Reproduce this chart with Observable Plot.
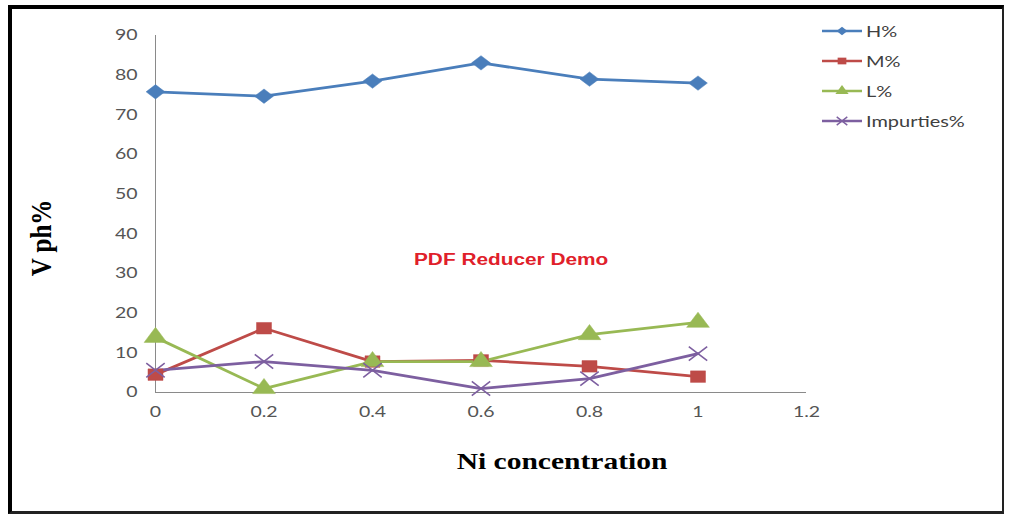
<!DOCTYPE html>
<html><head><meta charset="utf-8">
<script src="https://cdn.jsdelivr.net/npm/d3@7"></script>
<script src="https://cdn.jsdelivr.net/npm/@observablehq/plot@0.6"></script>
<style>
html,body{margin:0;padding:0;background:#fff;}
#wrap{position:relative;width:1010px;height:517px;overflow:hidden;}
#frame{position:absolute;left:8px;top:5px;width:990px;height:502px;border-left:4px solid #000;border-top:4px solid #000;border-right:2px solid #222;border-bottom:3px solid #222;pointer-events:none;}
.ttl{position:absolute;font-family:"Liberation Serif","DejaVu Serif",serif;font-weight:bold;font-size:24px;color:#000;white-space:nowrap;}
#legend{position:absolute;left:820px;top:16px;font-family:Lato,"Open Sans",sans-serif;font-size:15px;color:#404040;}
#legend .it{display:flex;align-items:center;height:30px;}
#legend svg{margin-right:2px;}
#legend span{display:inline-block;transform:scaleX(1.33);transform-origin:left center;}
#wm{position:absolute;left:414px;top:251px;font-family:"Liberation Sans",Arial,sans-serif;font-weight:bold;font-size:16px;color:#e0202a;transform:scaleX(1.3);transform-origin:left center;white-space:nowrap;}
</style></head>
<body><div id="wrap"></div>
<script>
const xs = [0, 0.2, 0.4, 0.6, 0.8, 1];
const seriesNames = ["H%", "M%", "L%", "Impurties%"];
const H = [75.8, 74.7, 78.5, 83.1, 79.0, 78.0];
const M = [4.5, 16.2, 7.8, 8.1, 6.6, 4.0];
const L = [13.9, 1.0, 7.8, 7.8, 14.6, 17.7];
const Imp = [5.6, 7.8, 5.6, 1.0, 3.5, 9.8];
const yTicks = [0, 10, 20, 30, 40, 50, 60, 70, 80, 90];
const xTicks = [0, 0.2, 0.4, 0.6, 0.8, 1, 1.2];
const colors = ["#4A7EBB", "#BE4B48", "#98B954", "#7D5FA0"];
const xTitle = "Ni concentration";
const yTitle = "V ph%";
const watermark = "PDF Reducer Demo";

const SX = 1.3; // horizontal stretch of the reference image
function stretched(type) {
  return {
    draw(ctx, size) {
      const c = {
        moveTo: (x, y) => ctx.moveTo(x * SX, y),
        lineTo: (x, y) => ctx.lineTo(x * SX, y),
        rect: (x, y, w, h) => {
          ctx.moveTo(x * SX, y);
          ctx.lineTo((x + w) * SX, y);
          ctx.lineTo((x + w) * SX, y + h);
          ctx.lineTo(x * SX, y + h);
          ctx.closePath();
        },
        closePath: () => ctx.closePath()
      };
      type.draw(c, size);
    }
  };
}
const symbols = [stretched(d3.symbolDiamond2), stretched(d3.symbolSquare), stretched(d3.symbolTriangle), stretched(d3.symbolTimes)];

const values = [H, M, L, Imp];
const data = [];
seriesNames.forEach((s, i) => xs.forEach((x, j) => data.push({series: s, x, y: values[i][j]})));

const wrap = document.getElementById("wrap");
const tickFont = "Lato, 'Open Sans', sans-serif";

const chart = Plot.plot({
  width: 1010, height: 517,
  marginLeft: 155, marginRight: 204, marginTop: 35, marginBottom: 125,
  style: {background: "transparent", overflow: "visible"},
  x: {domain: [0, 1.2], ticks: xTicks},
  y: {domain: [0, 90], ticks: yTicks},
  color: {domain: seriesNames, range: colors},
  symbol: {domain: seriesNames, range: symbols},
  marks: [
    Plot.ruleX([0], {stroke: "#8a8a8a", strokeWidth: 1}),
    Plot.ruleY([0], {stroke: "#8a8a8a", strokeWidth: 1}),
    Plot.axisY({ticks: yTicks, tickSize: 0, tickPadding: 18, label: null, fontSize: 15, fill: "#555", fontFamily: tickFont}),
    Plot.axisX({ticks: xTicks, tickSize: 0, tickPadding: 14, label: null, fontSize: 15, fill: "#555", fontFamily: tickFont, tickFormat: d => String(d)}),
    Plot.line(data, {x: "x", y: "y", z: "series", stroke: "series", strokeWidth: 2.8}),
    Plot.dot(data.filter(d => d.series !== "Impurties%"), {x: "x", y: "y", symbol: "series", fill: "series", stroke: "series", strokeWidth: 0.5, r: 6.5}),
    Plot.dot(data.filter(d => d.series === "Impurties%"), {x: "x", y: "y", symbol: "series", fill: "none", stroke: "series", strokeWidth: 1.6, r: 6.5})
  ]
});
chart.style.position = "absolute";
chart.style.left = "0px";
chart.style.top = "0px";
wrap.appendChild(chart);

// stretch tick labels horizontally like the reference
chart.querySelectorAll("g[aria-label='y-axis tick label'] text, g[aria-label='x-axis tick label'] text").forEach(t => {
  const tr = t.getAttribute("transform");
  if (tr) {
    t.setAttribute("transform", tr + ` scale(${SX},1)`);
  } else {
    const x = +(t.getAttribute("x") || 0), y = +(t.getAttribute("y") || 0);
    t.setAttribute("transform", `translate(${x},${y}) scale(${SX},1) translate(${-x},${-y})`);
  }
});

// axis titles
const yt = document.createElement("div");
yt.className = "ttl";
yt.textContent = yTitle;
yt.style.fontSize = "25px";
yt.style.left = "41px"; yt.style.top = "238px";
yt.style.transform = "translate(-50%,-50%) scaleX(1.2) rotate(-90deg)";
wrap.appendChild(yt);

const xt = document.createElement("div");
xt.className = "ttl";
xt.textContent = xTitle;
xt.style.left = "562px"; xt.style.top = "461px";
xt.style.transform = "translate(-50%,-50%) scaleX(1.23)";
wrap.appendChild(xt);

const wm = document.createElement("div");
wm.id = "wm"; wm.textContent = watermark;
wrap.appendChild(wm);

// legend
const leg = document.createElement("div");
leg.id = "legend";
seriesNames.forEach((s, i) => {
  const it = document.createElement("div");
  it.className = "it";
  const svg = d3.create("svg").attr("width", 44).attr("height", 16);
  svg.append("line").attr("x1", 2).attr("x2", 42).attr("y1", 8).attr("y2", 8).attr("stroke", colors[i]).attr("stroke-width", 2.4);
  const p = d3.symbol(symbols[i], 45)();
  const g = svg.append("path").attr("d", p).attr("transform", "translate(22,8)");
  if (i === 3) g.attr("fill", "none").attr("stroke", colors[i]).attr("stroke-width", 1.4);
  else g.attr("fill", colors[i]);
  it.appendChild(svg.node());
  const t = document.createElement("span");
  t.textContent = s;
  it.appendChild(t);
  leg.appendChild(it);
});
wrap.appendChild(leg);

const fr = document.createElement("div");
fr.id = "frame";
wrap.appendChild(fr);
</script>
</body></html>
